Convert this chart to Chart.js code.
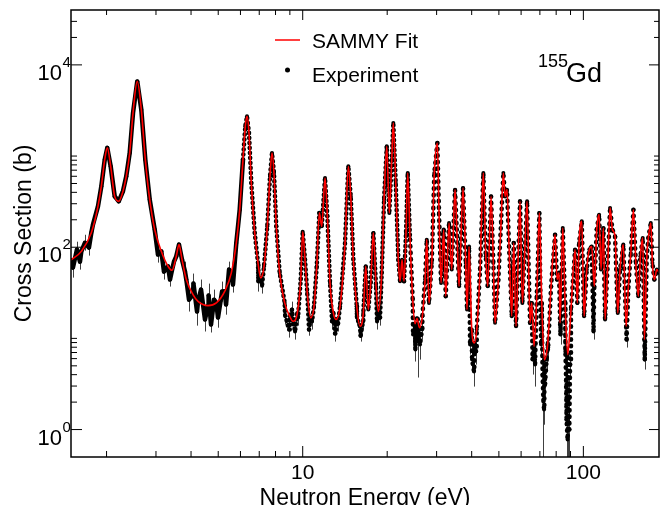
<!DOCTYPE html>
<html>
<head>
<meta charset="utf-8">
<script src="https://cdn.jsdelivr.net/npm/chart.js@4.4.1/dist/chart.umd.min.js"></script>
<style>
  html, body { margin: 0; padding: 0; background: #fff; }
</style>
</head>
<body>
<canvas id="myChart" width="664" height="505"></canvas>
<script>
// energies (eV) and cross sections (b); the data dots sit on it
const curveE = [1.49, 1.626, 1.765, 1.864, 1.916, 1.970, 2.012, 2.069, 2.138, 2.210, 2.288, 2.351, 2.418, 2.485, 2.573, 2.660, 2.749, 2.850, 2.969, 3.134,
  3.311, 3.421, 3.544, 3.624, 3.715, 3.848, 4.065, 4.236, 4.598, 4.922, 5.272, 5.567, 5.799, 5.963, 6.126, 6.243, 6.331, 6.436, 6.559, 6.745,
  6.930, 7.085, 7.279, 7.478, 7.646, 7.772, 7.900, 8.051, 8.279, 8.627, 8.990, 9.236, 9.567, 9.838, 10.00, 10.19, 10.38, 10.68, 10.97, 11.22,
  11.46, 11.69, 12.01, 12.24, 12.51, 12.86, 13.14, 13.58, 14.15, 14.54, 14.83, 15.15, 15.58, 16.00, 16.44, 16.77, 17.13, 17.47, 17.85, 18.25,
  18.60, 19.12, 19.49, 19.93, 20.35, 20.76, 21.03, 21.45, 21.91, 22.23, 22.59, 22.96, 23.34, 23.67, 24.12, 24.66, 25.13, 25.54, 26.08, 26.69,
  27.29, 27.67, 28.18, 28.83, 29.44, 30.18, 30.60, 31.11, 31.80, 32.33, 33.22, 33.96, 34.89, 35.48, 36.06, 37.26, 38.09, 38.50, 39.14, 40.02,
  40.88, 41.70, 42.85, 44.02, 44.90, 45.63, 46.89, 47.78, 48.45, 49.79, 50.90, 51.87, 52.60, 53.47, 54.35, 55.56, 56.48, 57.55, 59.48, 60.62,
  63.02, 64.57, 65.48, 66.73, 68.22, 69.70, 71.08, 72.61, 74.67, 76.72, 79.29, 80.60, 81.93, 82.61, 84.46, 86.07, 87.99, 90.35, 93.41, 95.20,
  96.54, 98.70, 100.6, 102.8, 105.0, 107.1, 109.4, 111.6, 113.8, 115.6, 117.9, 119.5, 122.2, 124.5, 126.9, 129.7, 132.6, 135.1, 138.8, 142.0,
  144.7, 147.6, 150.8, 153.8, 157.0, 159.7, 162.8, 165.0, 168.3, 170.5, 173.9, 176.2, 179.1, 182.7, 186.5];
const curveXS = [72, 90, 144, 281, 465, 913, 1230, 771, 361, 319, 410, 599, 1081, 2971, 6590, 3227, 913, 333, 156, 90.2,
  61.8, 55.8, 79.5, 106.8, 73.1, 44.2, 30.2, 25.5, 22.9, 24.5, 32.8, 52.3, 111.5, 258, 913, 2118, 2725, 1791, 507, 143.5,
  67.3, 46.1, 61.8, 169.5, 599, 1081, 653, 169.5, 52.3, 24.5, 17.5, 15.4, 19.0, 44.2, 148, 73.1, 31.5, 16.8, 22.5, 61.8,
  238, 169.5, 575, 218, 40.6, 19.0, 16.1, 22.5, 111.5, 771, 361, 73.1, 22.5, 13.6, 19.0, 61.8, 20.7, 40.6, 143.5, 37.3,
  19.8, 52.3, 333, 1277, 238, 913, 2307, 507, 73.1, 42.3, 73.1, 42.3, 143.5, 653, 121.2, 26.6, 14.5, 16.5, 13.1, 17.5,
  44.2, 121, 24.5, 67.3, 653, 1393, 238, 40.6, 156, 29.0, 184.7, 56.8, 428, 131.8, 37.3, 447, 67.3, 20.7, 102, 12.5,
  8.93, 12.5, 56.8, 653, 79.5, 37.3, 361, 67.3, 14.8, 44.2, 184.7, 653, 361, 428, 102, 17.5, 111.5, 13.6, 319, 24.5,
  319, 14.8, 24.5, 8.19, 29.0, 238, 24.5, 5.85, 8.93, 37.3, 137.4, 44.2, 52.3, 14.8, 162.8, 24.5, 6.64, 20.7, 94.2, 24.5,
  111.5, 192.3, 17.5, 56.8, 94.2, 102, 37.3, 156, 227.7, 56.8, 162.8, 16.1, 67.3, 270, 156, 131.8, 19.0, 56.8, 106.8, 13.6,
  37.3, 86.6, 258, 67.3, 29.0, 79.5, 126.5, 9.70, 79.5, 126.5, 184.7, 67.3, 44.2, 56.8, 52.3];

// extra experimental points off the curve, with error bar ends (b)
const scatE = [1.518, 1.569, 1.608, 1.676, 1.731, 1.789, 3.050, 3.204, 3.366, 3.477, 3.807, 3.934, 4.08, 4.201, 4.342, 4.485, 4.62, 4.713, 4.830, 4.990,
  5.159, 5.331, 5.463, 5.643, 6.95, 7.161, 8.648, 8.937, 9.160, 9.389, 9.623, 10.53, 10.79, 12.72, 13.04, 13.36, 15.61, 16.08, 16.40, 18.40,
  18.86, 24.72, 25.2, 25.70, 26.18, 26.61, 39.47, 40.12, 40.78, 41.46, 65.92, 67.29, 70.68, 71.55, 72.01, 72.44, 73.03, 73.95, 74.84, 82.9,
  86.3, 86.77, 87.13, 87.86, 88.56, 89.15, 89.66, 108.7, 142.6, 165.5];
const scatXS = [59.8, 94.2, 69.5, 112, 99, 177, 83, 54, 44.2, 69.5, 54, 26.6, 39.9, 19.7, 34.3, 16.1, 29.5, 14.2, 26.6, 16.9,
  32.6, 23.5, 56.8, 38.9, 42, 37.9, 18.2, 12.5, 20.7, 11.9, 16.9, 12.5, 15.3, 15.3, 11.3, 14.5, 16.9, 10.7, 15.3, 15.3,
  16.9, 11.0, 7.54, 9.22, 8.55, 12.5, 8.55, 5.85, 4.32, 7.17, 5.85, 5.16, 8.55, 4.01, 2.13, 1.66, 3.11, 5.85, 7.54, 11.0,
  7.17, 3.54, 1.29, 0.777, 2.13, 1.0, 5.16, 11.9, 9.70, 5.85];
const scatLo = [46.4, 76.9, 56.8, 91.8, 80.9, 148, 67.8, 44.2, 37, 59.8, 42, 19.7, 29.5, 13.8, 25.3, 11.9, 21.8, 11.6, 19.7, 13.1,
  25.3, 18.2, 44.2, 31.8, 32.6, 31, 14.2, 10.2, 16.9, 9.7, 13.8, 10.7, 12.5, 12.5, 9.22, 11.9, 13.8, 9.22, 12.5, 12.5,
  13.8, 8.55, 5.57, 3.72, 5.85, 9.7, 6.64, 4.32, 2.96, 5.16, 4.01, 2.96, 6.16, 2.61, 0.1, 1.13, 2.13, 4.32, 5.57, 8.55,
  5.16, 2.13, 0.1, 0.1, 1.13, 0.1, 3.54, 9.7, 7.93, 4.55];
const scatHi = [76.9, 115, 85.1, 137, 121, 211, 101.6, 66.1, 52.7, 80.9, 69.5, 34.3, 51.4, 26.6, 44.2, 21.8, 39.9, 18.2, 34.3, 22.9,
  42, 30.2, 69.5, 47.6, 54, 46.4, 23.5, 15.3, 25.3, 14.5, 20.7, 15.3, 18.7, 18.7, 13.8, 17.8, 20.7, 12.5, 18.7, 18.7,
  20.7, 14.2, 9.70, 12.5, 11.6, 15.3, 11.0, 7.54, 5.85, 9.22, 7.54, 7.17, 11.0, 5.57, 3.11, 2.24, 4.32, 7.54, 9.70, 14.2,
  9.22, 5.16, 2.13, 1.29, 3.54, 1.66, 7.17, 14.2, 11.9, 7.54];

const xMajor = [10, 100];
const xMajorLabels = ['10', '100'];
const xMinor = [2, 3, 4, 5, 6, 7, 8, 9, 20, 30, 40, 50, 60, 70, 80, 90];
const yMajor = [1, 100, 10000];
const yMajorExp = ['0', '2', '4'];
const yMinor = [2, 3, 4, 5, 6, 7, 8, 9, 10, 200, 300, 400, 500, 600, 700, 800, 900, 1000, 20000, 30000];

const FONT = '"Liberation Sans", Arial, Helvetica, sans-serif';

document.addEventListener('DOMContentLoaded', () => {

  const fitData = curveE.map((e, i) => ({ x: e, y: curveXS[i] }));
  const expData = curveE.map((e, i) => ({ x: e, y: curveXS[i] }))
    .concat(scatE.map((e, i) => ({ x: e, y: scatXS[i] })))
    .sort((a, b) => a.x - b.x);

  // error bars, drawn under the data
  const errorBars = {
    id: 'errorBars',
    beforeDatasetsDraw(chart) {
      const { ctx, chartArea: a, scales: { x, y } } = chart;
      ctx.save();
      ctx.beginPath();
      ctx.rect(a.left, a.top, a.right - a.left, a.bottom - a.top);
      ctx.clip();
      ctx.strokeStyle = 'rgba(0,0,0,0.75)';
      ctx.lineWidth = 1;
      scatE.forEach((e, i) => {
        const px = Math.round(x.getPixelForValue(e)) + 0.5;
        ctx.beginPath();
        ctx.moveTo(px, y.getPixelForValue(scatLo[i]));
        ctx.lineTo(px, y.getPixelForValue(scatHi[i]));
        ctx.stroke();
      });
      ctx.restore();
    }
  };

  // frame, ticks, labels, legend (ROOT look)
  const rootFrame = {
    id: 'rootFrame',
    afterDraw(chart) {
      const { ctx, chartArea: a, scales: { x, y } } = chart;
      const line = (x1, y1, x2, y2) => {
        ctx.beginPath(); ctx.moveTo(x1, y1); ctx.lineTo(x2, y2); ctx.stroke();
      };
      ctx.save();
      ctx.strokeStyle = '#000';
      ctx.lineWidth = 1;
      xMajor.forEach(v => {
        const p = x.getPixelForValue(v);
        line(p, a.bottom, p, a.bottom - 11);
        line(p, a.top, p, a.top + 10);
      });
      xMinor.forEach(v => {
        const p = x.getPixelForValue(v);
        line(p, a.bottom, p, a.bottom - 6);
        line(p, a.top, p, a.top + 5);
      });
      yMajor.forEach(v => {
        const p = y.getPixelForValue(v);
        line(a.left, p, a.left + 11, p);
        line(a.right, p, a.right - 10, p);
      });
      yMinor.forEach(v => {
        const p = y.getPixelForValue(v);
        line(a.left, p, a.left + 6, p);
        line(a.right, p, a.right - 5, p);
      });
      ctx.lineWidth = 1.5;
      ctx.strokeRect(a.left, a.top, a.right - a.left, a.bottom - a.top);

      ctx.fillStyle = '#000';
      ctx.textBaseline = 'alphabetic';
      ctx.font = '21px ' + FONT;
      ctx.textAlign = 'center';
      xMajor.forEach((v, i) => ctx.fillText(xMajorLabels[i], x.getPixelForValue(v), 479));
      yMajor.forEach((v, i) => {
        const p = y.getPixelForValue(v);
        ctx.font = '22px ' + FONT;
        ctx.textAlign = 'right';
        ctx.fillText('10', 62, p + 15);
        ctx.font = '15px ' + FONT;
        ctx.textAlign = 'left';
        ctx.fillText(yMajorExp[i], 62.5, p + 2);
      });

      // axis titles, centred on the frame
      const cx = (a.left + a.right) / 2;
      const cy = (a.top + a.bottom) / 2;
      ctx.font = '23px ' + FONT;
      ctx.textAlign = 'center';
      ctx.fillText('Neutron Energy (eV)', cx, 505);
      ctx.save();
      ctx.translate(31, cy);
      ctx.rotate(-Math.PI / 2);
      ctx.fillText('Cross Section (b)', 0, 0);
      ctx.restore();

      // legend
      ctx.textAlign = 'left';
      ctx.strokeStyle = '#ff0000';
      ctx.lineWidth = 1.5;
      line(275, 40, 300, 40);
      ctx.beginPath();
      ctx.arc(287.5, 70, 2.5, 0, Math.PI * 2);
      ctx.fill();
      ctx.font = '21px ' + FONT;
      ctx.fillText('SAMMY Fit', 312, 47.5);
      ctx.fillText('Experiment', 312, 81.5);

      // isotope label
      ctx.font = '18px ' + FONT;
      ctx.fillText('155', 538, 67);
      ctx.font = '27px ' + FONT;
      ctx.fillText('Gd', 566, 82);
      ctx.restore();
    }
  };

  // solid band where the data are dense, dotted further up in energy
  const bandDash = c => {
    const e = c.p0.parsed.x;
    if (e < 6) return undefined;
    return e < 24 ? [0.5, 4.5] : [0.5, 6];
  };

  const ctx = document.getElementById('myChart').getContext('2d');
  new Chart(ctx, {
    type: 'line',
    data: {
      datasets: [{
        label: 'SAMMY Fit',
        data: fitData,
        borderColor: '#ff0000',
        borderWidth: 1.6,
        borderJoinStyle: 'round',
        pointRadius: 0,
        cubicInterpolationMode: 'monotone',
        clip: 0
      }, {
        label: 'Experiment',
        data: expData,
        borderColor: '#000',
        borderWidth: 4.5,
        borderCapStyle: 'round',
        borderJoinStyle: 'round',
        tension: 0,
        pointRadius: 2,
        pointBorderWidth: 0,
        pointBackgroundColor: '#000',
        clip: 0,
        segment: { borderDash: bandDash }
      }]
    },
    options: {
      responsive: false,
      animation: false,
      devicePixelRatio: 1,
      events: [],
      layout: { padding: { left: 71, top: 10, right: 5, bottom: 48 } },
      scales: {
        x: { type: 'logarithmic', min: 1.494, max: 186, display: false },
        y: { type: 'logarithmic', min: 0.5, max: 40000, display: false }
      },
      plugins: { legend: { display: false }, tooltip: { enabled: false } }
    },
    plugins: [errorBars, rootFrame]
  });
});
</script>
</body>
</html>
